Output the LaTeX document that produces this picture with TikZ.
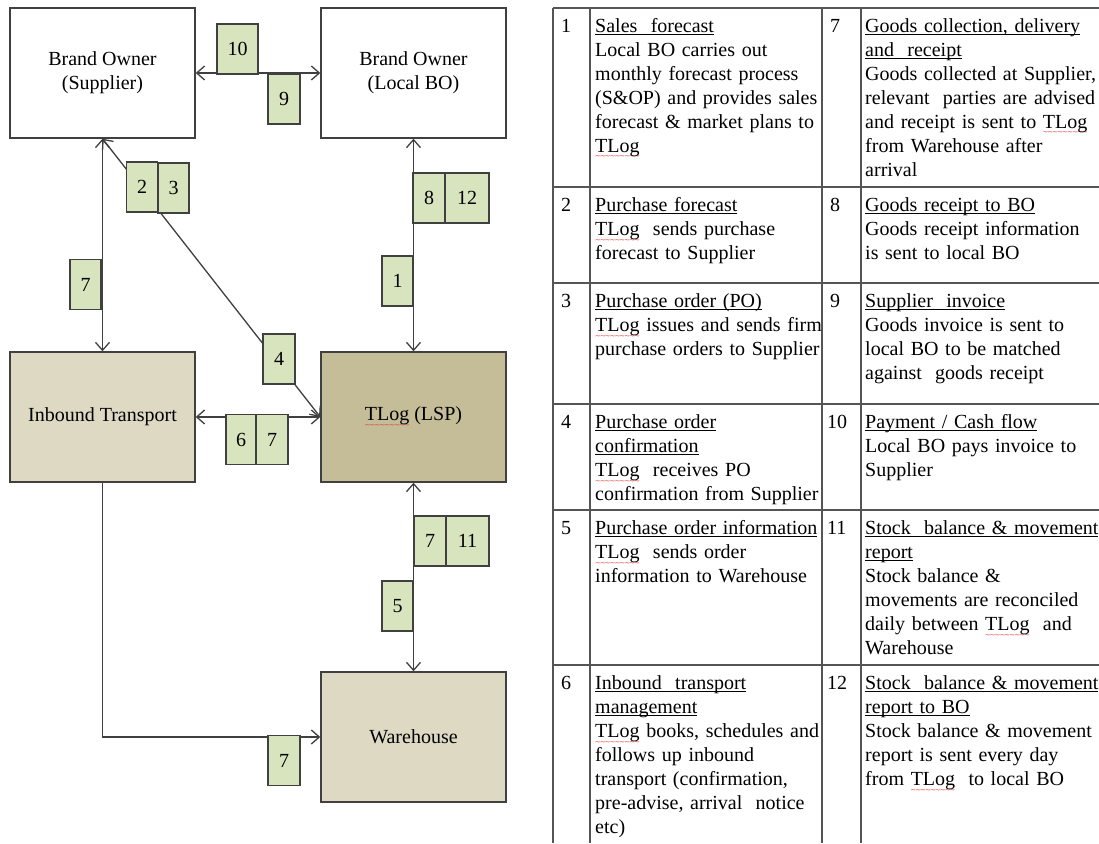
\documentclass[tikz,border=0pt]{standalone}
\usepackage{fontspec}
\setmainfont{Liberation Serif}
\newfontfamily\wavefam{DejaVu Sans}
\usetikzlibrary{arrows.meta}

\definecolor{lineg}{HTML}{404040}
\definecolor{gridg}{HTML}{555555}
\definecolor{tanlight}{HTML}{DDD9C3}
\definecolor{tandark}{HTML}{C4BD97}
\definecolor{olivetag}{HTML}{D7E4BD}
\definecolor{spellred}{HTML}{E03535}

% underlined row title, the rule just under the baseline
\newsavebox\markbox
\newcommand\titleline[1]{\leavevmode\sbox\markbox{#1}\rlap{\rule[-2.5pt]{\wd\markbox}{1pt}}\usebox\markbox}
% "TLog" with a red wavy mark underneath
\newcommand\tlogw{\leavevmode\sbox\markbox{TLog}\rlap{\raisebox{-6.5pt}{\color{spellred}\fontsize{7}{7}\wavefam
  \hbox to \wd\markbox{\xleaders\hbox{\kern-0.6pt ∼\kern-0.6pt}\hfill}}}\usebox\markbox}

\begin{document}
\begin{tikzpicture}[x=1pt,y=-1pt,
  party/.style={draw=lineg, line width=1.4pt, minimum width=185pt, minimum height=130pt,
    inner sep=0pt, align=center, font=\fontsize{20}{24}\selectfont},
  tag/.style={draw=lineg, line width=1.3pt, fill=olivetag, minimum height=50pt,
    inner sep=0pt, font=\fontsize{20}{24}\selectfont},
  barb/.tip={Straight Barb[length=8pt,width=14pt]},
  link/.style={draw=lineg, line width=1.3pt},
  twoway/.style={link, barb-barb},
  oneway/.style={link, -barb},
  grid/.style={draw=gridg, line width=1.4pt},
  cell/.style={anchor=base west, inner sep=0pt, text width=300pt, align=left,
    font=\fontsize{20}{24}\selectfont},
  num/.style={anchor=base west, inner sep=0pt, font=\fontsize{20}{24}\selectfont}
]
\useasboundingbox (0,0) rectangle (1099,843);
\fill[white] (0,0) rectangle (1099,843);

% ---------------- parties ----------------
\node[party, fill=white]    (sup) at (102.5,73)  {Brand Owner\\(Supplier)};
\node[party, fill=white]    (lbo) at (413.5,73)  {Brand Owner\\(Local BO)};
\node[party, fill=tanlight] (inb) at (102.5,417) {Inbound Transport};
\node[party, fill=tandark]  (tlg) at (413.5,417) {\tlogw{} (LSP)};
\node[party, fill=tanlight] (wh)  at (413.5,737) {Warehouse};

% ---------------- flows ----------------
\draw[twoway] (sup.east) -- (lbo.west);
\draw[twoway] (sup.south) -- (inb.north);
\draw[twoway] (sup.south) -- (tlg.west);
\draw[twoway] (lbo.south) -- (tlg.north);
\draw[twoway] (inb.east) -- (tlg.west);
\draw[twoway] (tlg.south) -- (wh.north);
\draw[oneway] (inb.south) |- (wh.west);

% ---------------- flow numbers ----------------
\node[tag, minimum width=41pt] (t10)  at (237.5,49)  {10};
\node[tag, minimum width=32pt] (t9)   at (284,99)    {9};
\node[tag, minimum width=31pt] (t2)   at (142,187)   {2};
\node[tag, minimum width=31pt] (t3)   at (173.5,188) {3};
\node[tag, minimum width=31pt] (t7a)  at (85.5,284.5) {7};
\node[tag, minimum width=32pt] (t8)   at (429,198)   {8};
\node[tag, minimum width=44pt] (t12)  at (467,198)   {12};
\node[tag, minimum width=31pt] (t1)   at (397.5,281) {1};
\node[tag, minimum width=32pt] (t4)   at (279,359)   {4};
\node[tag, minimum width=30pt] (t6)   at (241,439.5) {6};
\node[tag, minimum width=32pt] (t7b)  at (272,439.5) {7};
\node[tag, minimum width=32pt] (t7c)  at (430,541)   {7};
\node[tag, minimum width=43pt] (t11)  at (467.5,541) {11};
\node[tag, minimum width=31pt] (t5)   at (397.5,606) {5};
\node[tag, minimum width=32pt] (t7d)  at (284,760.5) {7};

% ---------------- legend table ----------------
\foreach \yy in {8,187,283,404,510,665} \draw[grid] (553,\yy) -- (1099,\yy);
\foreach \xx in {553,590,822,861} \draw[grid] (\xx,8) -- (\xx,843);

% left column
\node[num] (n1) at (561,32.5)  {1};
\node[cell] (d1) at (595,32.5) {\titleline{Sales\ \ forecast}\\Local BO carries out\\monthly forecast process\\(S\&OP) and provides sales\\forecast \& market plans to\\\tlogw};
\node[num] (n2) at (561,211.5) {2};
\node[cell] (d2) at (595,211.5) {\titleline{Purchase forecast}\\\tlogw\ \ sends purchase\\forecast to Supplier};
\node[num] (n3) at (561,307.5) {3};
\node[cell] (d3) at (595,307.5) {\titleline{Purchase order (PO)}\\\tlogw{} issues and sends firm\\purchase orders to Supplier};
\node[num] (n4) at (561,428.5) {4};
\node[cell] (d4) at (595,428.5) {\titleline{Purchase order}\\\titleline{confirmation}\\\tlogw\ \ receives PO\\confirmation from Supplier};
\node[num] (n5) at (561,534.5) {5};
\node[cell] (d5) at (595,534.5) {\titleline{Purchase order information}\\\tlogw\ \ sends order\\information to Warehouse};
\node[num] (n6) at (561,689.5) {6};
\node[cell] (d6) at (595,689.5) {\titleline{Inbound\ \ transport}\\\titleline{management}\\\tlogw{} books, schedules and\\follows up inbound\\transport (confirmation,\\pre-advise, arrival\ \ notice\\etc)};

% right column
\node[num] (n7) at (830,32.5)  {7};
\node[cell] (d7) at (865,32.5) {\titleline{Goods collection, delivery}\\\titleline{and\ \ receipt}\\Goods collected at Supplier,\\relevant\ \ parties are advised\\and receipt is sent to \tlogw\\from Warehouse after\\arrival};
\node[num] (n8) at (830,211.5) {8};
\node[cell] (d8) at (865,211.5) {\titleline{Goods receipt to BO}\\Goods receipt information\\is sent to local BO};
\node[num] (n9) at (830,307.5) {9};
\node[cell] (d9) at (865,307.5) {\titleline{Supplier\ \ invoice}\\Goods invoice is sent to\\local BO to be matched\\against\ \ goods receipt};
\node[num] (n10) at (827,428.5) {10};
\node[cell] (d10) at (865,428.5) {\titleline{Payment / Cash flow}\\Local BO pays invoice to\\Supplier};
\node[num] (n11) at (827,534.5) {11};
\node[cell] (d11) at (865,534.5) {\titleline{Stock\ \ balance \& movement}\\\titleline{report}\\Stock balance \&\\movements are reconciled\\daily between \tlogw\ \ and\\Warehouse};
\node[num] (n12) at (827,689.5) {12};
\node[cell] (d12) at (865,689.5) {\titleline{Stock\ \ balance \& movement}\\\titleline{report to BO}\\Stock balance \& movement\\report is sent every day\\from \tlogw\ \ to local BO};
\end{tikzpicture}
\end{document}
